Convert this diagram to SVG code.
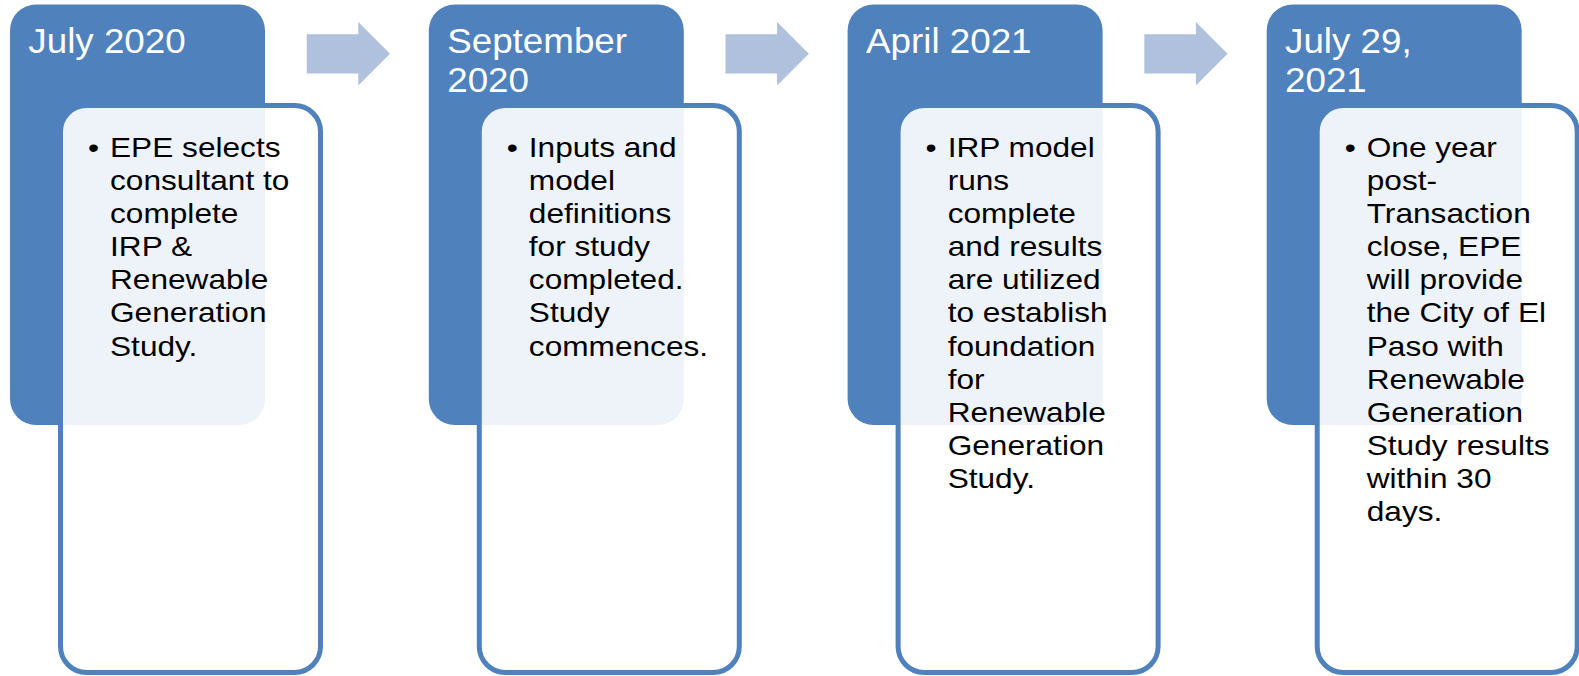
<svg xmlns="http://www.w3.org/2000/svg" width="1579" height="676" viewBox="0 0 1579 676">
  <style>
    .head { fill: #4F81BD; }
    .card { fill: #FFFFFF; fill-opacity: 0.9; stroke: #4F81BD; stroke-width: 5; }
    .date { font-family: "Liberation Sans", Arial, sans-serif; font-size: 36px; fill: #FFFFFF; }
    .body { font-family: "Liberation Sans", Arial, sans-serif; font-size: 28px; fill: #000000; }
    .step { fill: #B0C1DE; }
  </style>
  <defs>
    <path id="arrow" d="M0,0 H51.6 V-12.3 L83.3,19.5 L51.6,51.3 V39.3 H0 Z"/>
  </defs>

  <g id="connectors">
    <use href="#arrow" class="step" x="306.7" y="34.2"/>
    <use href="#arrow" class="step" x="725.5" y="34.2"/>
    <use href="#arrow" class="step" x="1144.3" y="34.2"/>
  </g>

  <g id="node-july-2020">
    <rect class="head" x="10" y="4.5" width="255" height="420.5" rx="26"/>
    <text class="date" transform="translate(28.3,53) scale(1.022,1)">July 2020</text>
    <rect class="card" x="60.5" y="105.5" width="260" height="567" rx="26"/>
    <text class="body" transform="translate(88,157) scale(1.13,1)">
      <tspan x="0">•</tspan>
      <tspan x="19.5">EPE selects</tspan>
      <tspan x="19.5" dy="33.1">consultant to</tspan>
      <tspan x="19.5" dy="33.1">complete</tspan>
      <tspan x="19.5" dy="33.1">IRP &amp;</tspan>
      <tspan x="19.5" dy="33.1">Renewable</tspan>
      <tspan x="19.5" dy="33.1">Generation</tspan>
      <tspan x="19.5" dy="33.1">Study.</tspan>
    </text>
  </g>

  <g id="node-september-2020">
    <rect class="head" x="428.8" y="4.5" width="255" height="420.5" rx="26"/>
    <text class="date" transform="translate(447.2,53) scale(1.022,1)">September<tspan x="0" dy="38.7">2020</tspan></text>
    <rect class="card" x="479.3" y="105.5" width="260" height="567" rx="26"/>
    <text class="body" transform="translate(506.8,157) scale(1.13,1)">
      <tspan x="0">•</tspan>
      <tspan x="19.5">Inputs and</tspan>
      <tspan x="19.5" dy="33.1">model</tspan>
      <tspan x="19.5" dy="33.1">definitions</tspan>
      <tspan x="19.5" dy="33.1">for study</tspan>
      <tspan x="19.5" dy="33.1">completed.</tspan>
      <tspan x="19.5" dy="33.1">Study</tspan>
      <tspan x="19.5" dy="33.1">commences.</tspan>
    </text>
  </g>

  <g id="node-april-2021">
    <rect class="head" x="847.6" y="4.5" width="255" height="420.5" rx="26"/>
    <text class="date" transform="translate(866,53) scale(1.022,1)">April 2021</text>
    <rect class="card" x="898.1" y="105.5" width="260" height="567" rx="26"/>
    <text class="body" transform="translate(925.6,157) scale(1.13,1)">
      <tspan x="0">•</tspan>
      <tspan x="19.5">IRP model</tspan>
      <tspan x="19.5" dy="33.1">runs</tspan>
      <tspan x="19.5" dy="33.1">complete</tspan>
      <tspan x="19.5" dy="33.1">and results</tspan>
      <tspan x="19.5" dy="33.1">are utilized</tspan>
      <tspan x="19.5" dy="33.1">to establish</tspan>
      <tspan x="19.5" dy="33.1">foundation</tspan>
      <tspan x="19.5" dy="33.1">for</tspan>
      <tspan x="19.5" dy="33.1">Renewable</tspan>
      <tspan x="19.5" dy="33.1">Generation</tspan>
      <tspan x="19.5" dy="33.1">Study.</tspan>
    </text>
  </g>

  <g id="node-july-29-2021">
    <rect class="head" x="1266.7" y="4.5" width="255" height="420.5" rx="26"/>
    <text class="date" transform="translate(1285,53) scale(1.022,1)">July 29,<tspan x="0" dy="38.7">2021</tspan></text>
    <rect class="card" x="1317.2" y="105.5" width="260" height="567" rx="26"/>
    <text class="body" transform="translate(1344.7,157) scale(1.13,1)">
      <tspan x="0">•</tspan>
      <tspan x="19.5">One year</tspan>
      <tspan x="19.5" dy="33.1">post-</tspan>
      <tspan x="19.5" dy="33.1">Transaction</tspan>
      <tspan x="19.5" dy="33.1">close, EPE</tspan>
      <tspan x="19.5" dy="33.1">will provide</tspan>
      <tspan x="19.5" dy="33.1">the City of El</tspan>
      <tspan x="19.5" dy="33.1">Paso with</tspan>
      <tspan x="19.5" dy="33.1">Renewable</tspan>
      <tspan x="19.5" dy="33.1">Generation</tspan>
      <tspan x="19.5" dy="33.1">Study results</tspan>
      <tspan x="19.5" dy="33.1">within 30</tspan>
      <tspan x="19.5" dy="33.1">days.</tspan>
    </text>
  </g>
</svg>
